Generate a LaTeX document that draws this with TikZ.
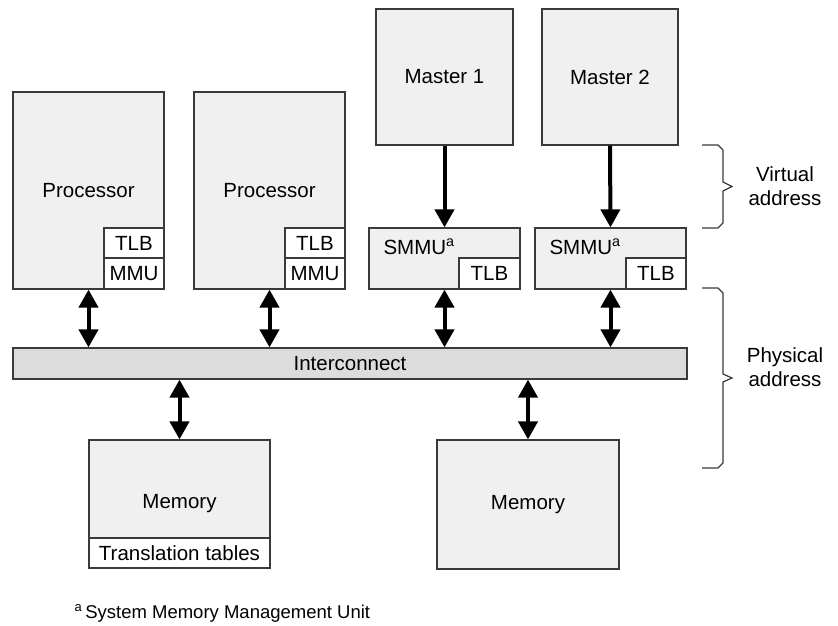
\documentclass[tikz,border=0pt]{standalone}
\usepackage{fontspec}
\setmainfont{Liberation Sans}
\usepackage{tikz}
\usetikzlibrary{arrows.meta}

\definecolor{boxfill}{HTML}{F0F0F0}
\definecolor{busfill}{HTML}{DCDCDC}
\definecolor{edgecol}{HTML}{3A3A3A}

\tikzset{
	unit/.style={draw=edgecol, fill=boxfill, line width=1.2pt, inner sep=0pt,
		font=\fontsize{20.5}{24}\selectfont},
	sub/.style={unit, fill=white},
	link/.style={line width=4pt, -{Triangle[width=19pt,length=18pt]}},
	duplex/.style={line width=4pt, {Triangle[width=19pt,length=18pt]}-{Triangle[width=19pt,length=18pt]}},
	brace/.style={draw=edgecol, line width=1.2pt},
	note/.style={align=center, font=\fontsize{20.5}{24}\selectfont}
}

\begin{document}
\begin{tikzpicture}[x=1pt,y=-1pt]
\useasboundingbox (0,0) rectangle (838,626);
% processors
\node [unit, minimum width=151pt, minimum height=197pt] (p1) at (88.5,190.5) {Processor};
\node [sub, minimum width=60pt, minimum height=30pt] (tlb1) at (134,243) {TLB};
\node [sub, minimum width=60pt, minimum height=31pt] (mmu1) at (134,273.5) {MMU};
\node [unit, minimum width=151pt, minimum height=197pt] (p2) at (269.5,190.5) {Processor};
\node [sub, minimum width=60pt, minimum height=30pt] (tlb2) at (315,243) {TLB};
\node [sub, minimum width=60pt, minimum height=31pt] (mmu2) at (315,273.5) {MMU};
% masters and their SMMUs
\node [unit, minimum width=137pt, minimum height=136pt] (m1) at (444.5,77) {Master 1};
\node [unit, minimum width=136pt, minimum height=136pt] (m2) at (610,77) {Master 2};
\node [unit, minimum width=151pt, minimum height=61pt] (s1) at (444.5,258.5) {};
\node [anchor=west, font=\fontsize{20.5}{24}\selectfont] (s1lab) at (380,247) {SMMU\textsuperscript{a}};
\node [sub, minimum width=61pt, minimum height=31pt] (tlb3) at (489.5,273.5) {TLB};
\node [unit, minimum width=151pt, minimum height=61pt] (s2) at (610.5,258.5) {};
\node [anchor=west, font=\fontsize{20.5}{24}\selectfont] (s2lab) at (546,247) {SMMU\textsuperscript{a}};
\node [sub, minimum width=60pt, minimum height=31pt] (tlb4) at (656,273.5) {TLB};
% bus
\node [unit, fill=busfill, minimum width=674pt, minimum height=31pt] (ic) at (350,363.5) {Interconnect};
% memories
\node [unit, minimum width=181pt, minimum height=128pt] (mem1) at (179.5,504) {Memory};
\node [sub, minimum width=181pt, minimum height=30pt] (tt) at (179.5,553) {Translation tables};
\node [unit, minimum width=182pt, minimum height=129pt] (mem2) at (528,504.5) {Memory};

\draw [link] (m1.south) -- (s1.north);
\draw [link] (m2.south) -- (s2.north);
\draw [duplex] (p1.south) -- (p1.south |- ic.north);
\draw [duplex] (p2.south) -- (p2.south |- ic.north);
\draw [duplex] (s1.south) -- (s1.south |- ic.north);
\draw [duplex] (s2.south) -- (s2.south |- ic.north);
\draw [duplex] (mem1.north) -- (mem1.north |- ic.south);
\draw [duplex] (mem2.north) -- (mem2.north |- ic.south);

% address braces
\draw [brace] (702,145) -- (718,145) -- (723,150) -- (723,182) -- (732,186.5)
	-- (723,191) -- (723,223) -- (718,228) -- (702,228);
\draw [brace] (702,288) -- (718,288) -- (723,293) -- (723,374) -- (732,378)
	-- (723,382) -- (723,463) -- (718,468) -- (702,468);
\node [note] (va) at (785,186.5) {Virtual\\address};
\node [note] (pa) at (785,367) {Physical\\address};

\node [anchor=base west, font=\fontsize{18.5}{22}\selectfont] (fn) at (71,618) {\textsuperscript{a}\,System Memory Management Unit};
\end{tikzpicture}
\end{document}
